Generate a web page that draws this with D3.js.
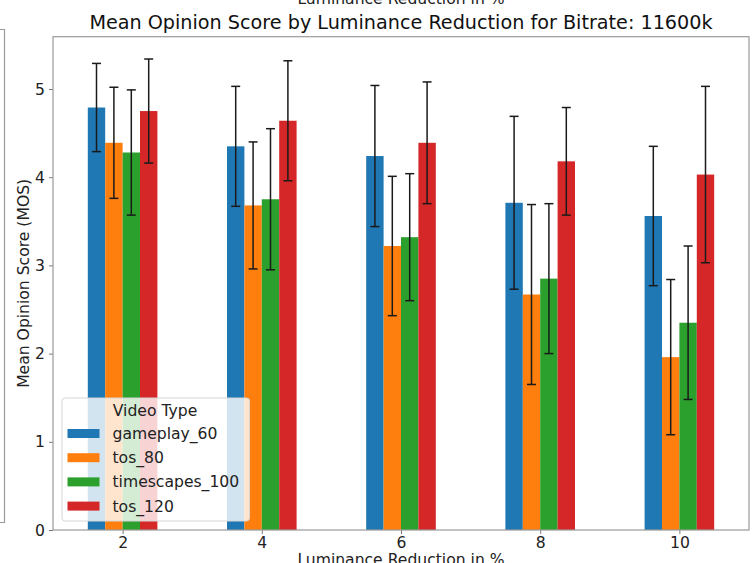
<!DOCTYPE html>
<html>
<head>
<meta charset="utf-8">
<script src="https://cdn.jsdelivr.net/npm/d3@7/dist/d3.min.js"></script>
<style>
  html, body { margin: 0; padding: 0; background: #fff; }
  svg { display: block; font-family: "DejaVu Sans", sans-serif; }
</style>
</head>
<body>
<svg id="chart" width="756" height="563"></svg>
<script>
// Luminance reduction levels (%)
const categories = [2, 4, 6, 8, 10];
const seriesNames = ["gameplay_60", "tos_80", "timescapes_100", "tos_120"];
const seriesColors = ["#1f77b4", "#ff7f0e", "#2ca02c", "#d62728"];

// Mean opinion scores per video type
const gameplay60 = [4.79, 4.35, 4.24, 3.71, 3.56];
const tos80 = [4.39, 3.68, 3.22, 2.67, 1.96];
const timescapes100 = [4.28, 3.75, 3.32, 2.85, 2.35];
const tos120 = [4.75, 4.64, 4.39, 4.18, 4.03];

// Standard deviations (error bars)
const gameplay60Err = [0.50, 0.68, 0.80, 0.98, 0.79];
const tos80Err = [0.63, 0.72, 0.79, 1.02, 0.88];
const timescapes100Err = [0.71, 0.80, 0.72, 0.85, 0.87];
const tos120Err = [0.59, 0.68, 0.69, 0.61, 1.00];

const yTicks = [0, 1, 2, 3, 4, 5];

const means = [gameplay60, tos80, timescapes100, tos120];
const errs = [gameplay60Err, tos80Err, timescapes100Err, tos120Err];

const svg = d3.select("#chart");
const margin = { left: 53, right: 749, top: 36.7, bottom: 530 };
const fs = 15.6;

const x = d3.scaleLinear().domain([-0.5, categories.length - 0.5]).range([margin.left, margin.right]);
const y = d3.scaleLinear().domain([0, 5.593]).range([margin.bottom, margin.top]);

const barW = 0.125;
const spineColor = "#9a9a9a";

// Edge of the neighbouring panel on the left
svg.append("path")
  .attr("d", "M0,29.5 H4.5 V522.5 H0")
  .attr("fill", "none").attr("stroke", spineColor).attr("stroke-width", 1.2);

// Clipped x-label of the panel above
svg.append("text")
  .attr("x", 401).attr("y", 4)
  .attr("text-anchor", "middle").attr("font-size", fs).attr("fill", "#222")
  .text("Luminance Reduction in %");

// Bars
const rows = [];
means.forEach((vals, s) => vals.forEach((v, i) => rows.push({ s, i, v, e: errs[s][i] })));

svg.append("g").selectAll("rect").data(rows).enter().append("rect")
  .attr("x", d => x(d.i + (d.s - 1.5) * barW - barW / 2))
  .attr("width", d => x(d.i + barW / 2) - x(d.i - barW / 2))
  .attr("y", d => y(d.v))
  .attr("height", d => y(0) - y(d.v))
  .attr("fill", d => seriesColors[d.s]);

// Error bars
const eg = svg.append("g").attr("stroke", "#1a1a1a").attr("stroke-width", 1.5);
rows.forEach(d => {
  const cx = x(d.i + (d.s - 1.5) * barW);
  const y1 = y(d.v + d.e), y0 = y(d.v - d.e);
  eg.append("line").attr("x1", cx).attr("x2", cx).attr("y1", y1).attr("y2", y0);
  eg.append("line").attr("x1", cx - 4.5).attr("x2", cx + 4.5).attr("y1", y1).attr("y2", y1);
  eg.append("line").attr("x1", cx - 4.5).attr("x2", cx + 4.5).attr("y1", y0).attr("y2", y0);
});

// Axes
const yAxis = svg.append("g").attr("transform", `translate(${margin.left},0)`)
  .call(d3.axisLeft(y).tickValues(yTicks).tickFormat(d3.format("d")).tickSizeOuter(0).tickSize(4).tickPadding(4));
const xAxis = svg.append("g").attr("transform", `translate(0,${margin.bottom})`)
  .call(d3.axisBottom(x).tickValues(categories.map((c, i) => i)).tickFormat((d) => categories[d]).tickSizeOuter(0).tickSize(4).tickPadding(3));
[xAxis, yAxis].forEach(a => {
  a.select(".domain").remove();
  a.selectAll("line").attr("stroke", "#555").attr("stroke-width", 0.8);
  a.selectAll("text").attr("font-size", fs).attr("fill", "#222").attr("font-family", "DejaVu Sans, sans-serif");
});

// Frame
svg.append("rect")
  .attr("x", margin.left).attr("y", margin.top)
  .attr("width", margin.right - margin.left).attr("height", margin.bottom - margin.top)
  .attr("fill", "none").attr("stroke", spineColor).attr("stroke-width", 1.2);

// Titles
svg.append("text")
  .attr("x", (margin.left + margin.right) / 2).attr("y", 29)
  .attr("text-anchor", "middle").attr("font-size", 19.2).attr("fill", "#111")
  .text("Mean Opinion Score by Luminance Reduction for Bitrate: 11600k");

svg.append("text")
  .attr("transform", `translate(29,${(margin.top + margin.bottom) / 2}) rotate(-90)`)
  .attr("text-anchor", "middle").attr("font-size", fs).attr("fill", "#222")
  .text("Mean Opinion Score (MOS)");

svg.append("text")
  .attr("x", (margin.left + margin.right) / 2).attr("y", 565)
  .attr("text-anchor", "middle").attr("font-size", fs).attr("fill", "#222")
  .text("Luminance Reduction in %");

// Legend
const lg = svg.append("g");
lg.append("rect")
  .attr("x", 62).attr("y", 398).attr("width", 187.5).attr("height", 123).attr("rx", 3)
  .attr("fill", "rgba(255,255,255,0.8)").attr("stroke", "#d6d6d6").attr("stroke-width", 1);
lg.append("text").attr("x", 155).attr("y", 416).attr("text-anchor", "middle")
  .attr("font-size", fs).attr("fill", "#222").text("Video Type");
seriesNames.forEach((n, s) => {
  const cy = 433.5 + s * 24.2;
  lg.append("rect").attr("x", 67.5).attr("y", cy - 4.5).attr("width", 32).attr("height", 9).attr("fill", seriesColors[s]);
  lg.append("text").attr("x", 112.5).attr("y", cy + 5.5).attr("font-size", fs).attr("fill", "#222").text(n);
});
</script>
</body>
</html>
